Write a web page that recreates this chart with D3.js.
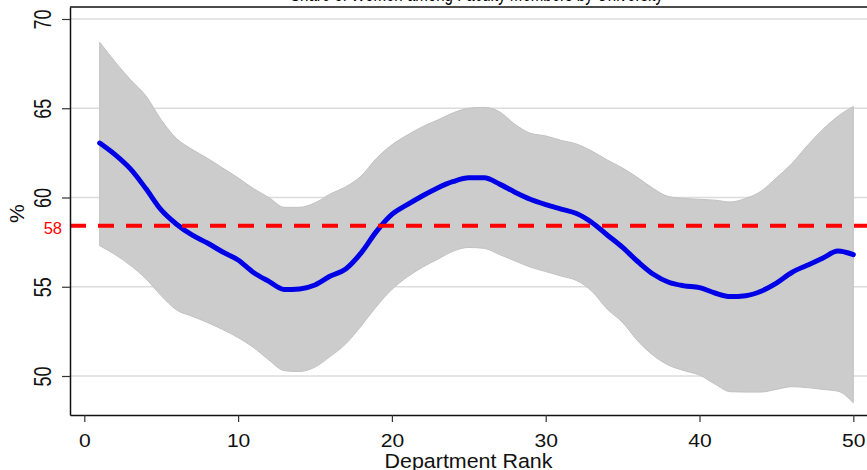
<!DOCTYPE html>
<html>
<head>
<meta charset="utf-8">
<script src="https://cdn.jsdelivr.net/npm/d3@7"></script>
<style>
  html, body { margin: 0; padding: 0; background: #fff; }
  svg { display: block; font-family: "Liberation Sans", Arial, sans-serif; }
</style>
</head>
<body>
<svg id="chart" width="867" height="470"></svg>
<script>
// ---- data ----
const ranks = d3.range(1, 51);
const estimate = [63.05,62.4,61.6,60.5,59.3,58.5,57.9,57.45,56.95,56.5,
                  55.8,55.3,54.85,54.88,55.1,55.6,56.0,56.9,58.1,59.05,
                  59.6,60.1,60.55,60.9,61.1,61.1,60.75,60.3,59.9,59.6,
                  59.35,59.1,58.6,57.9,57.2,56.4,55.7,55.25,55.05,54.95,
                  54.65,54.45,54.5,54.75,55.2,55.8,56.2,56.6,57.0,56.8];
const upper = [68.7,67.6,66.6,65.7,64.35,63.3,62.7,62.2,61.65,61.1,
               60.5,60.0,59.45,59.45,59.7,60.2,60.6,61.2,62.2,62.95,
               63.5,63.97,64.35,64.75,65.0,65.05,64.8,64.1,63.6,63.45,
               63.2,63.0,62.6,62.1,61.65,61.1,60.5,60.05,59.95,59.9,
               59.85,59.75,59.95,60.35,61.1,61.9,62.9,63.8,64.55,65.1];
const lower = [57.3,56.8,56.2,55.45,54.5,53.7,53.35,53.0,52.6,52.15,
               51.6,50.9,50.3,50.25,50.5,51.1,51.8,52.8,53.9,54.85,
               55.55,56.1,56.55,57.0,57.2,57.15,56.8,56.45,56.1,55.85,
               55.6,55.35,54.75,53.75,53.0,51.95,51.15,50.6,50.3,50.05,
               49.55,49.12,49.1,49.1,49.25,49.4,49.35,49.25,49.15,48.5];
const meanValue = 58.42;
const meanLabel = "58";
const xTicks = [0, 10, 20, 30, 40, 50];
const yTicks = [50, 55, 60, 65, 70];
const xTitle = "Department Rank";
const yTitle = "%";
const title = "Share of Women among Faculty Members by University";

// ---- layout ----
const W = 867, H = 470;
const m = {left: 70, top: 7, right: 0, bottom: 55};
const svg = d3.select("#chart");

const x = d3.scaleLinear().domain([-0.93, 50.89]).range([m.left, W - m.right]);
const y = d3.scaleLinear().domain([47.815, 70.672]).range([H - m.bottom, m.top]);

const data = ranks.map((r, i) => ({r, e: estimate[i], u: upper[i], l: lower[i]}));

// title (mostly cut off at the top)
svg.append("text")
  .attr("x", (m.left + W) / 2 + 8)
  .attr("y", 1.2)
  .attr("text-anchor", "middle")
  .attr("font-size", 20)
  .attr("textLength", 373)
  .attr("lengthAdjust", "spacingAndGlyphs")
  .attr("fill", "#000")
  .text(title);

// gridlines
svg.append("g").selectAll("line").data(yTicks).join("line")
  .attr("x1", m.left).attr("x2", W)
  .attr("y1", d => y(d)).attr("y2", d => y(d))
  .attr("stroke", "#dcdcdc").attr("stroke-width", 1.5);

// confidence band
svg.append("path").datum(data)
  .attr("d", d3.area().x(d => x(d.r)).y0(d => y(d.l)).y1(d => y(d.u)).curve(d3.curveMonotoneX))
  .attr("fill", "#cccccc")
  .attr("stroke", "#c2c2c2").attr("stroke-width", 1);

// estimate line
svg.append("path").datum(data)
  .attr("d", d3.line().x(d => x(d.r)).y(d => y(d.e)).curve(d3.curveMonotoneX))
  .attr("fill", "none")
  .attr("stroke", "#0000e6")
  .attr("stroke-width", 5)
  .attr("stroke-linejoin", "round")
  .attr("stroke-linecap", "round");

// mean dashed line
svg.append("line")
  .attr("x1", m.left).attr("x2", W)
  .attr("y1", y(meanValue)).attr("y2", y(meanValue))
  .attr("stroke", "#ff0000").attr("stroke-width", 4)
  .attr("stroke-dasharray", "16,12");

svg.append("text")
  .attr("x", m.left - 8)
  .attr("y", y(meanValue) + 8)
  .attr("text-anchor", "end")
  .attr("font-size", 16.5)
  .attr("fill", "#ff0000")
  .text(meanLabel);

// frame top
svg.append("line")
  .attr("x1", m.left).attr("x2", W)
  .attr("y1", m.top).attr("y2", m.top)
  .attr("stroke", "#111").attr("stroke-width", 1.5);

// x axis
const gx = svg.append("g")
  .attr("transform", `translate(0,${H - m.bottom})`)
  .call(d3.axisBottom(x).tickValues(xTicks).tickSize(7).tickSizeOuter(0));
gx.select(".domain").attr("stroke", "#111").attr("stroke-width", 1.5);
gx.selectAll(".tick line").attr("stroke", "#333").attr("stroke-width", 1.2);
gx.selectAll(".tick text")
  .attr("y", 32.5).attr("dy", null)
  .attr("font-size", 18.5)
  .attr("font-family", "Liberation Sans, Arial, sans-serif")
  .attr("fill", "#111")
  .attr("transform", "scale(1.14,1)");

// y axis
const gy = svg.append("g")
  .attr("transform", `translate(${m.left},0)`)
  .call(d3.axisLeft(y).tickValues(yTicks).tickSize(8).tickSizeOuter(0).tickFormat(""));
gy.select(".domain").attr("stroke", "#111").attr("stroke-width", 1.5);
gy.selectAll(".tick line").attr("stroke", "#333").attr("stroke-width", 1.2);
gy.selectAll(".tick").append("text")
  .attr("transform", "translate(-19.5,0) rotate(-90) scale(1,1.32)")
  .attr("text-anchor", "middle")
  .attr("font-size", 18)
  .attr("font-family", "Liberation Sans, Arial, sans-serif")
  .attr("fill", "#111")
  .text(d => d);

// axis titles
svg.append("text")
  .attr("transform", `translate(${(m.left + W) / 2},467.5) scale(1.1,1)`)
  .attr("text-anchor", "middle")
  .attr("font-size", 19.5)
  .attr("fill", "#111")
  .text(xTitle);

svg.append("text")
  .attr("transform", `translate(24,${y(59.1)}) rotate(-90)`)
  .attr("text-anchor", "middle")
  .attr("font-size", 21)
  .attr("fill", "#111")
  .text(yTitle);
</script>
</body>
</html>
